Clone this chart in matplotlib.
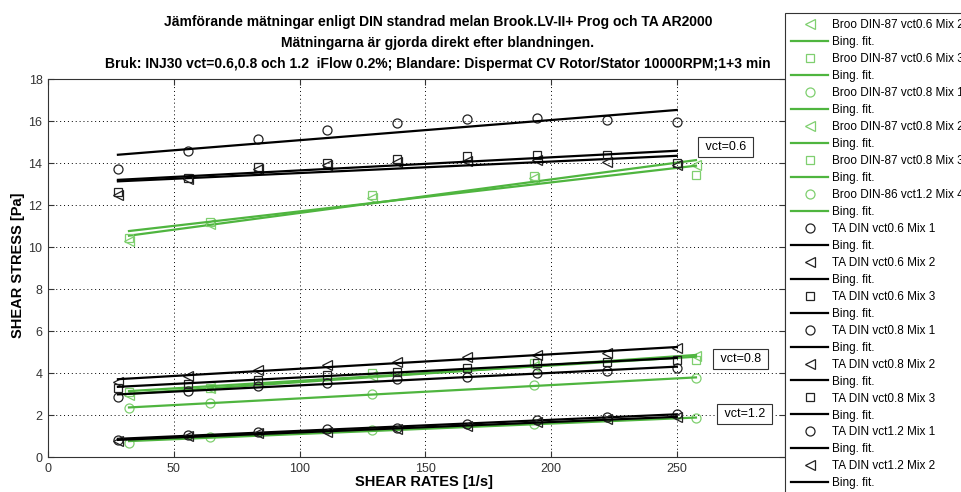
import numpy as np
import matplotlib
matplotlib.use("Agg")
import matplotlib.pyplot as plt
from matplotlib.lines import Line2D

plt.rcParams['font.family'] = ['Liberation Sans', 'DejaVu Sans']

# skjuvhastigheter
ta_rate = [27.8, 55.6, 83.3, 111.1, 138.9, 166.7, 194.4, 222.2, 250.0]
broo_rate = [32.2, 64.4, 128.8, 193.2, 257.6]

# Brookfield
broo_06_mix2 = [10.30, 11.10, 12.35, 13.27, 13.90]
broo_06_mix3 = [10.44, 11.20, 12.46, 13.38, 13.43]
broo_08_mix1 = [2.32, 2.59, 2.98, 3.43, 3.75]
broo_08_mix2 = [2.95, 3.30, 3.85, 4.35, 4.82]
broo_08_mix3 = [3.10, 3.27, 3.98, 4.46, 4.62]
broo_12_mix4 = [0.68, 0.97, 1.29, 1.57, 1.84]

# TA AR2000
ta_06_mix1 = [13.71, 14.57, 15.13, 15.57, 15.92, 16.08, 16.13, 16.05, 15.97]
ta_06_mix2 = [12.50, 13.25, 13.70, 13.90, 14.05, 14.11, 14.14, 14.06, 13.90]
ta_06_mix3 = [12.60, 13.30, 13.80, 14.01, 14.17, 14.35, 14.38, 14.40, 14.00]
ta_08_mix1 = [2.87, 3.14, 3.38, 3.51, 3.70, 3.83, 4.02, 4.11, 4.22]
ta_08_mix2 = [3.56, 3.87, 4.14, 4.38, 4.54, 4.78, 4.86, 4.94, 5.17]
ta_08_mix3 = [3.30, 3.48, 3.67, 3.90, 4.06, 4.25, 4.46, 4.51, 4.62]
ta_12_mix1 = [0.81, 1.05, 1.20, 1.33, 1.40, 1.57, 1.76, 1.89, 2.03]
ta_12_mix2 = [0.78, 1.00, 1.12, 1.20, 1.32, 1.50, 1.65, 1.80, 1.90]

serier = [
    ("Broo DIN-87 vct0.6 Mix 2", broo_rate, broo_06_mix2, '<', 'g'),
    ("Broo DIN-87 vct0.6 Mix 3", broo_rate, broo_06_mix3, 's', 'g'),
    ("Broo DIN-87 vct0.8 Mix 1", broo_rate, broo_08_mix1, 'o', 'g'),
    ("Broo DIN-87 vct0.8 Mix 2", broo_rate, broo_08_mix2, '<', 'g'),
    ("Broo DIN-87 vct0.8 Mix 3", broo_rate, broo_08_mix3, 's', 'g'),
    ("Broo DIN-86 vct1.2 Mix 4", broo_rate, broo_12_mix4, 'o', 'g'),
    ("TA DIN vct0.6 Mix 1", ta_rate, ta_06_mix1, 'o', 'k'),
    ("TA DIN vct0.6 Mix 2", ta_rate, ta_06_mix2, '<', 'k'),
    ("TA DIN vct0.6 Mix 3", ta_rate, ta_06_mix3, 's', 'k'),
    ("TA DIN vct0.8 Mix 1", ta_rate, ta_08_mix1, 'o', 'k'),
    ("TA DIN vct0.8 Mix 2", ta_rate, ta_08_mix2, '<', 'k'),
    ("TA DIN vct0.8 Mix 3", ta_rate, ta_08_mix3, 's', 'k'),
    ("TA DIN vct1.2 Mix 1", ta_rate, ta_12_mix1, 'o', 'k'),
    ("TA DIN vct1.2 Mix 2", ta_rate, ta_12_mix2, '<', 'k'),
]

farg_punkt = {'g': '#7fcf6f', 'k': '#222222'}
farg_linje = {'g': '#4fb53f', 'k': '#000000'}
msize = {'o': 6.5, '<': 6.5, 's': 5.5}

fig = plt.figure(figsize=(9.61, 4.92), dpi=100)
W, H = 961, 492
ax = fig.add_axes([48 / W, 1 - 457 / H, (785 - 48) / W, (457 - 79) / H])

handles = []
labels = []
for namn, x, y, m, c in serier:
    x = np.array(x)
    y = np.array(y)
    ax.plot(x, y, linestyle='none', marker=m, ms=msize[m], mfc='none',
            mec=farg_punkt[c], mew=0.9)
    # Bingham-anpassning (linjär)
    k, b = np.polyfit(x, y, 1)
    ax.plot([x[0], x[-1]], [b + k * x[0], b + k * x[-1]], color=farg_linje[c], lw=1.6)
    handles.append(Line2D([], [], linestyle='none', marker=m, ms=msize[m], mfc='none',
                          mec=farg_punkt[c], mew=0.9))
    labels.append(namn)
    handles.append(Line2D([], [], color=farg_linje[c], lw=1.6))
    labels.append("Bing. fit.")

ax.set_xlim(0, 293)
ax.set_ylim(0, 18)
ax.set_xticks([0, 50, 100, 150, 200, 250])
ax.set_yticks(np.arange(0, 19, 2))
ax.tick_params(direction='in', length=4, top=True, right=True, labelsize=9,
               labelcolor='#333333', color='#333333', width=0.8, pad=4)
ax.grid(True, color='black', linestyle=(0, (1, 3)), linewidth=0.7)
for s in ax.spines.values():
    s.set_color('#333333')
    s.set_linewidth(0.8)

boxstil = dict(boxstyle='square,pad=0.3', fc='white', ec='#333333', lw=0.8)
ax.text(269.4, 14.76, " vct=0.6 ", fontsize=9, ha='center', va='center', bbox=boxstil)
ax.text(275.3, 4.67, " vct=0.8 ", fontsize=9, ha='center', va='center', bbox=boxstil)
ax.text(277.0, 2.05, " vct=1.2 ", fontsize=9, ha='center', va='center', bbox=boxstil)

fig.text(438 / W, 1 - 15 / H,
         "Jämförande mätningar enligt DIN standrad melan Brook.LV-II+ Prog och TA AR2000\n"
         "Mätningarna är gjorda direkt efter blandningen.\n"
         "Bruk: INJ30 vct=0.6,0.8 och 1.2  iFlow 0.2%; Blandare: Dispermat CV Rotor/Stator 10000RPM;1+3 min",
         ha='center', va='top', fontsize=10, fontweight='bold', linespacing=1.62)
fig.text(18 / W, 1 - 265 / H, "SHEAR STRESS [Pa]", rotation=90, ha='center', va='center',
         fontsize=10.5, fontweight='bold')
fig.text(424 / W, 1 - 482 / H, "SHEAR RATES [1/s]", ha='center', va='center',
         fontsize=10.5, fontweight='bold')

leg = fig.legend(handles, labels, loc='upper left', bbox_to_anchor=(785 / W, 1 - 13 / H),
                 borderaxespad=0, fontsize=8.5, numpoints=1, handlelength=3.1,
                 handletextpad=0.35, labelspacing=0.42, borderpad=0.55,
                 fancybox=False, framealpha=1, edgecolor='#333333')
leg.get_frame().set_linewidth(0.8)

fig.savefig("out.png", dpi=100)
